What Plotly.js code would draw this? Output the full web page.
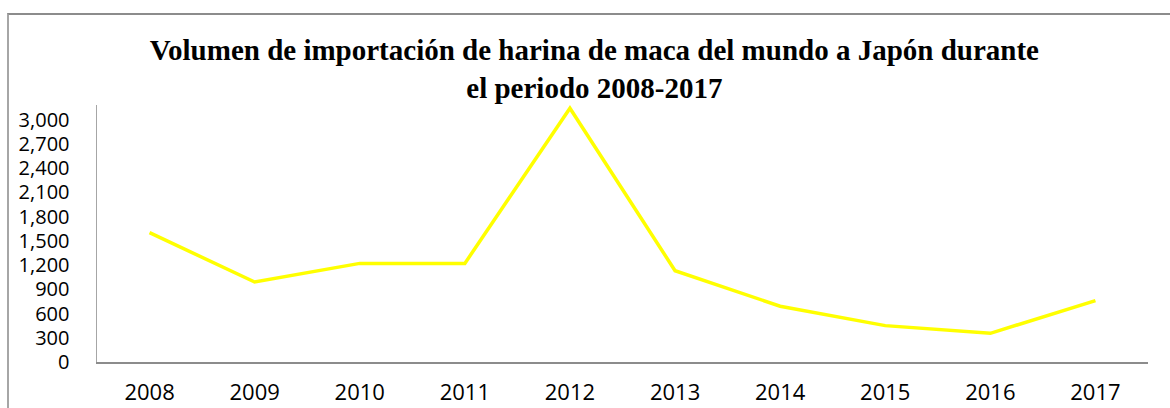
<!DOCTYPE html>
<html>
<head>
<meta charset="utf-8">
<script src="https://cdn.plot.ly/plotly-3.0.1.min.js"></script>
<style>
  html, body { margin: 0; padding: 0; background: #fff; }
  #wrap { position: relative; width: 1170px; height: 408px; overflow: hidden; }
  #frame { position: absolute; left: 7px; top: 13px; width: 1200px; height: 500px;
           border-top: 2px solid #8c8c8c; border-left: 2px solid #a6a6a6; }
  #chart { position: absolute; left: 0; top: 0; width: 1170px; height: 408px; }
</style>
</head>
<body>
<div id="wrap">
  <div id="frame"></div>
  <div id="chart"></div>
</div>
<script>
const years = ['2008','2009','2010','2011','2012','2013','2014','2015','2016','2017'];
const volumes = [1600, 990, 1220, 1220, 3140, 1130, 690, 450, 355, 760];
const yTicks = [0, 300, 600, 900, 1200, 1500, 1800, 2100, 2400, 2700, 3000];
const titleText = '<b>Volumen de importación de harina de maca del mundo a Japón durante<br>el periodo 2008-2017</b>';

const trace = {
  x: years,
  y: volumes,
  type: 'scatter',
  mode: 'lines',
  line: { color: '#FFFF00', width: 3.5 },
  hoverinfo: 'x+y'
};

const layout = {
  width: 1170,
  height: 408,
  paper_bgcolor: 'rgba(0,0,0,0)',
  plot_bgcolor: 'rgba(0,0,0,0)',
  margin: { l: 97, r: 22, t: 105, b: 46 },
  showlegend: false,
  title: {
    text: titleText,
    font: { family: 'Liberation Serif, Times New Roman, serif', size: 29, color: '#000' },
    xref: 'container', x: 0.508, xanchor: 'center',
    yref: 'container', y: 1 - 60/408, yanchor: 'middle'
  },
  xaxis: {
    type: 'category',
    range: [-0.5, 9.5],
    showgrid: false,
    zeroline: false,
    showline: true,
    linecolor: '#8c8c8c',
    linewidth: 1.5,
    ticks: 'outside',
    ticklen: 10,
    tickcolor: 'rgba(0,0,0,0)',
    tickfont: { family: 'Open Sans, sans-serif', size: 22, color: '#000' },
    fixedrange: true
  },
  yaxis: {
    range: [0, 3180],
    tickmode: 'array',
    tickvals: yTicks,
    ticktext: yTicks.map(v => v.toLocaleString('en-US')),
    showgrid: false,
    zeroline: false,
    showline: true,
    linecolor: '#a6a6a6',
    linewidth: 1.5,
    ticks: 'outside',
    ticklen: 22,
    tickcolor: 'rgba(0,0,0,0)',
    tickfont: { family: 'Open Sans, sans-serif', size: 20, color: '#000' },
    fixedrange: true
  }
};

Plotly.newPlot('chart', [trace], layout, { displayModeBar: false, staticPlot: true });
</script>
</body>
</html>
